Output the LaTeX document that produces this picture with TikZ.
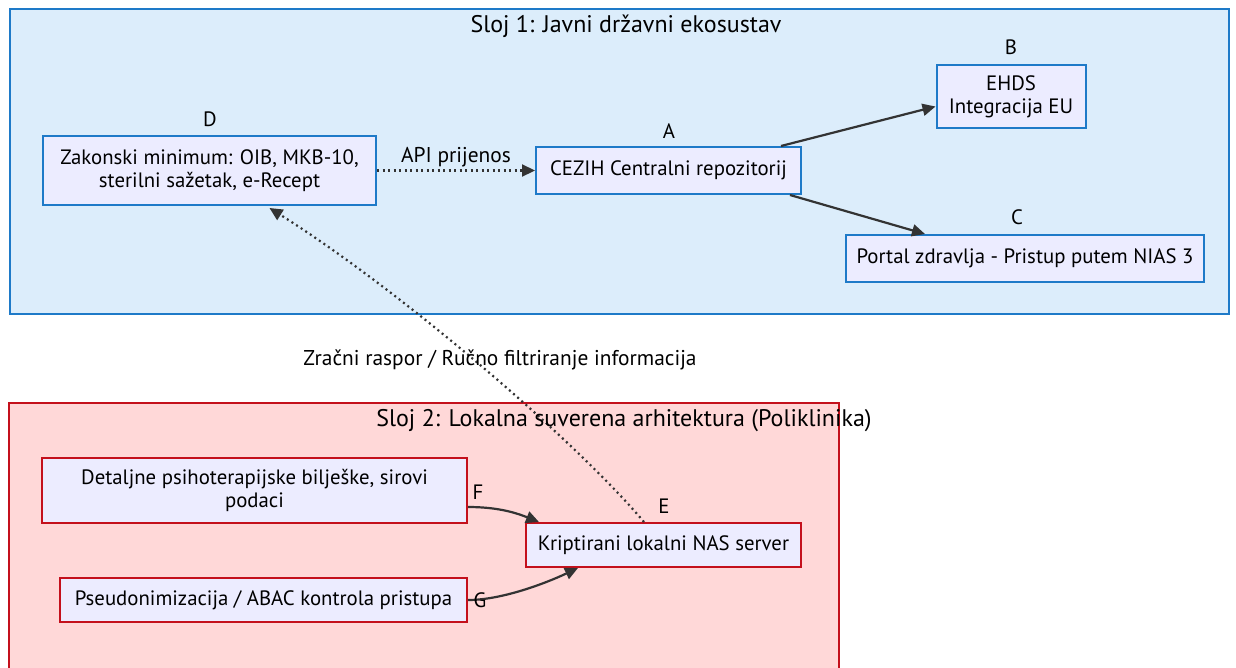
\documentclass[tikz,border=0pt]{standalone}
\usepackage{fontspec}
\setmainfont{PT Sans}
\usetikzlibrary{calc,arrows.meta}
\definecolor{layerblue}{RGB}{220,237,251}
\definecolor{borderblue}{RGB}{30,122,200}
\definecolor{layerred}{RGB}{255,216,216}
\definecolor{borderred}{RGB}{196,16,28}
\definecolor{nodefill}{RGB}{236,236,255}
\definecolor{edgegray}{RGB}{51,51,51}
\tikzset{
  every node/.style={font=\fontsize{20.8}{23}\selectfont, text=black},
  titletext/.style={font=\fontsize{24}{28}\selectfont},
  edgetext/.style={font=\fontsize{21.4}{24}\selectfont},
  bluebox/.style={draw=borderblue, line width=2pt, fill=nodefill, align=center, inner sep=0pt},
  redbox/.style={draw=borderred, line width=2pt, fill=nodefill, align=center, inner sep=0pt},
  conn/.style={draw=edgegray, line width=2.2pt, -{Triangle[length=13pt,width=12pt]}},
  dotconn/.style={draw=edgegray, line width=2.2pt, dash pattern=on 2pt off 3.5pt, -{Triangle[length=13pt,width=12pt]}},
}
\begin{document}
\begin{tikzpicture}[x=1pt,y=-1pt]
\useasboundingbox (0,0) rectangle (1236,667);
\fill[white] (0,0) rectangle (1236,667);
% layers
\node[draw=borderblue, line width=2pt, fill=layerblue, minimum width=1219pt, minimum height=305pt, inner sep=0pt] (L1) at (619,161) {};
\node[draw=borderred, line width=2pt, fill=layerred, minimum width=830pt, minimum height=275pt, inner sep=0pt] (L2) at (424,540) {};
\node[titletext] (T1) at (626,26) {Sloj 1: Javni državni ekosustav};
% nodes layer 1
\node[bluebox, minimum width=333pt, minimum height=69pt] (D) at (209.5,170.5) {Zakonski minimum: OIB, MKB-10,\\sterilni sažetak, e-Recept};
\node[bluebox, minimum width=265pt, minimum height=47pt] (A) at (668.5,170.5) {CEZIH Centralni repozitorij};
\node[bluebox, minimum width=149pt, minimum height=63pt] (B) at (1011,96.5) {EHDS\\Integracija EU};
\node[bluebox, minimum width=358pt, minimum height=47pt] (C) at (1025,258.5) {Portal zdravlja - Pristup putem NIAS 3};
\node (Dl) at (210,119) {D};
\node (Al) at (669,131) {A};
\node (Bl) at (1011,47) {B};
\node (Cl) at (1017,217) {C};
% nodes layer 2
\node[redbox, minimum width=425pt, minimum height=65pt] (F) at (254.5,490.5) {Detaljne psihoterapijske bilješke, sirovi\\podaci};
\node[redbox, minimum width=407pt, minimum height=44pt] (G) at (263.5,600) {Pseudonimizacija / ABAC kontrola pristupa};
\node[redbox, minimum width=275pt, minimum height=44pt] (E) at (663.5,545) {Kriptirani lokalni NAS server};
% edges
\draw[dotconn] (D.east) -- (A.west);
\node[edgetext] (api) at (456,157) {API prijenos};
\draw[conn] ($(A.north east)+(-21,0)$) -- ($(B.west)+(0,10)$);
\draw[conn] ($(A.south east)+(-12,0)$) -- ($(C.north west)+(80,0)$);
\draw[conn] ($(F.east)+(0,16.5)$) .. controls +(28,0) and +(-25,-10) .. ($(E.north west)+(14,0)$);
\draw[conn] ($(G.east)+(0,0)$) .. controls +(33,0) and +(-34,16) .. ($(E.south west)+(53,0)$);
\draw[dotconn] ($(E.north)+(-19.5,0)$) .. controls (575,440) and (400,290) .. ($(D.south)+(60,2)$);
\node[titletext] (T2) at (624,421) {Sloj 2: Lokalna suverena arhitektura (Poliklinika)};
\node (Fl) at (478,492) {F};
\node (Gl) at (480,600) {G};
\node (El) at (664,506) {E};
\node[edgetext] (gap) at (500,360) {Zračni raspor / Ručno filtriranje informacija};
\end{tikzpicture}
\end{document}
